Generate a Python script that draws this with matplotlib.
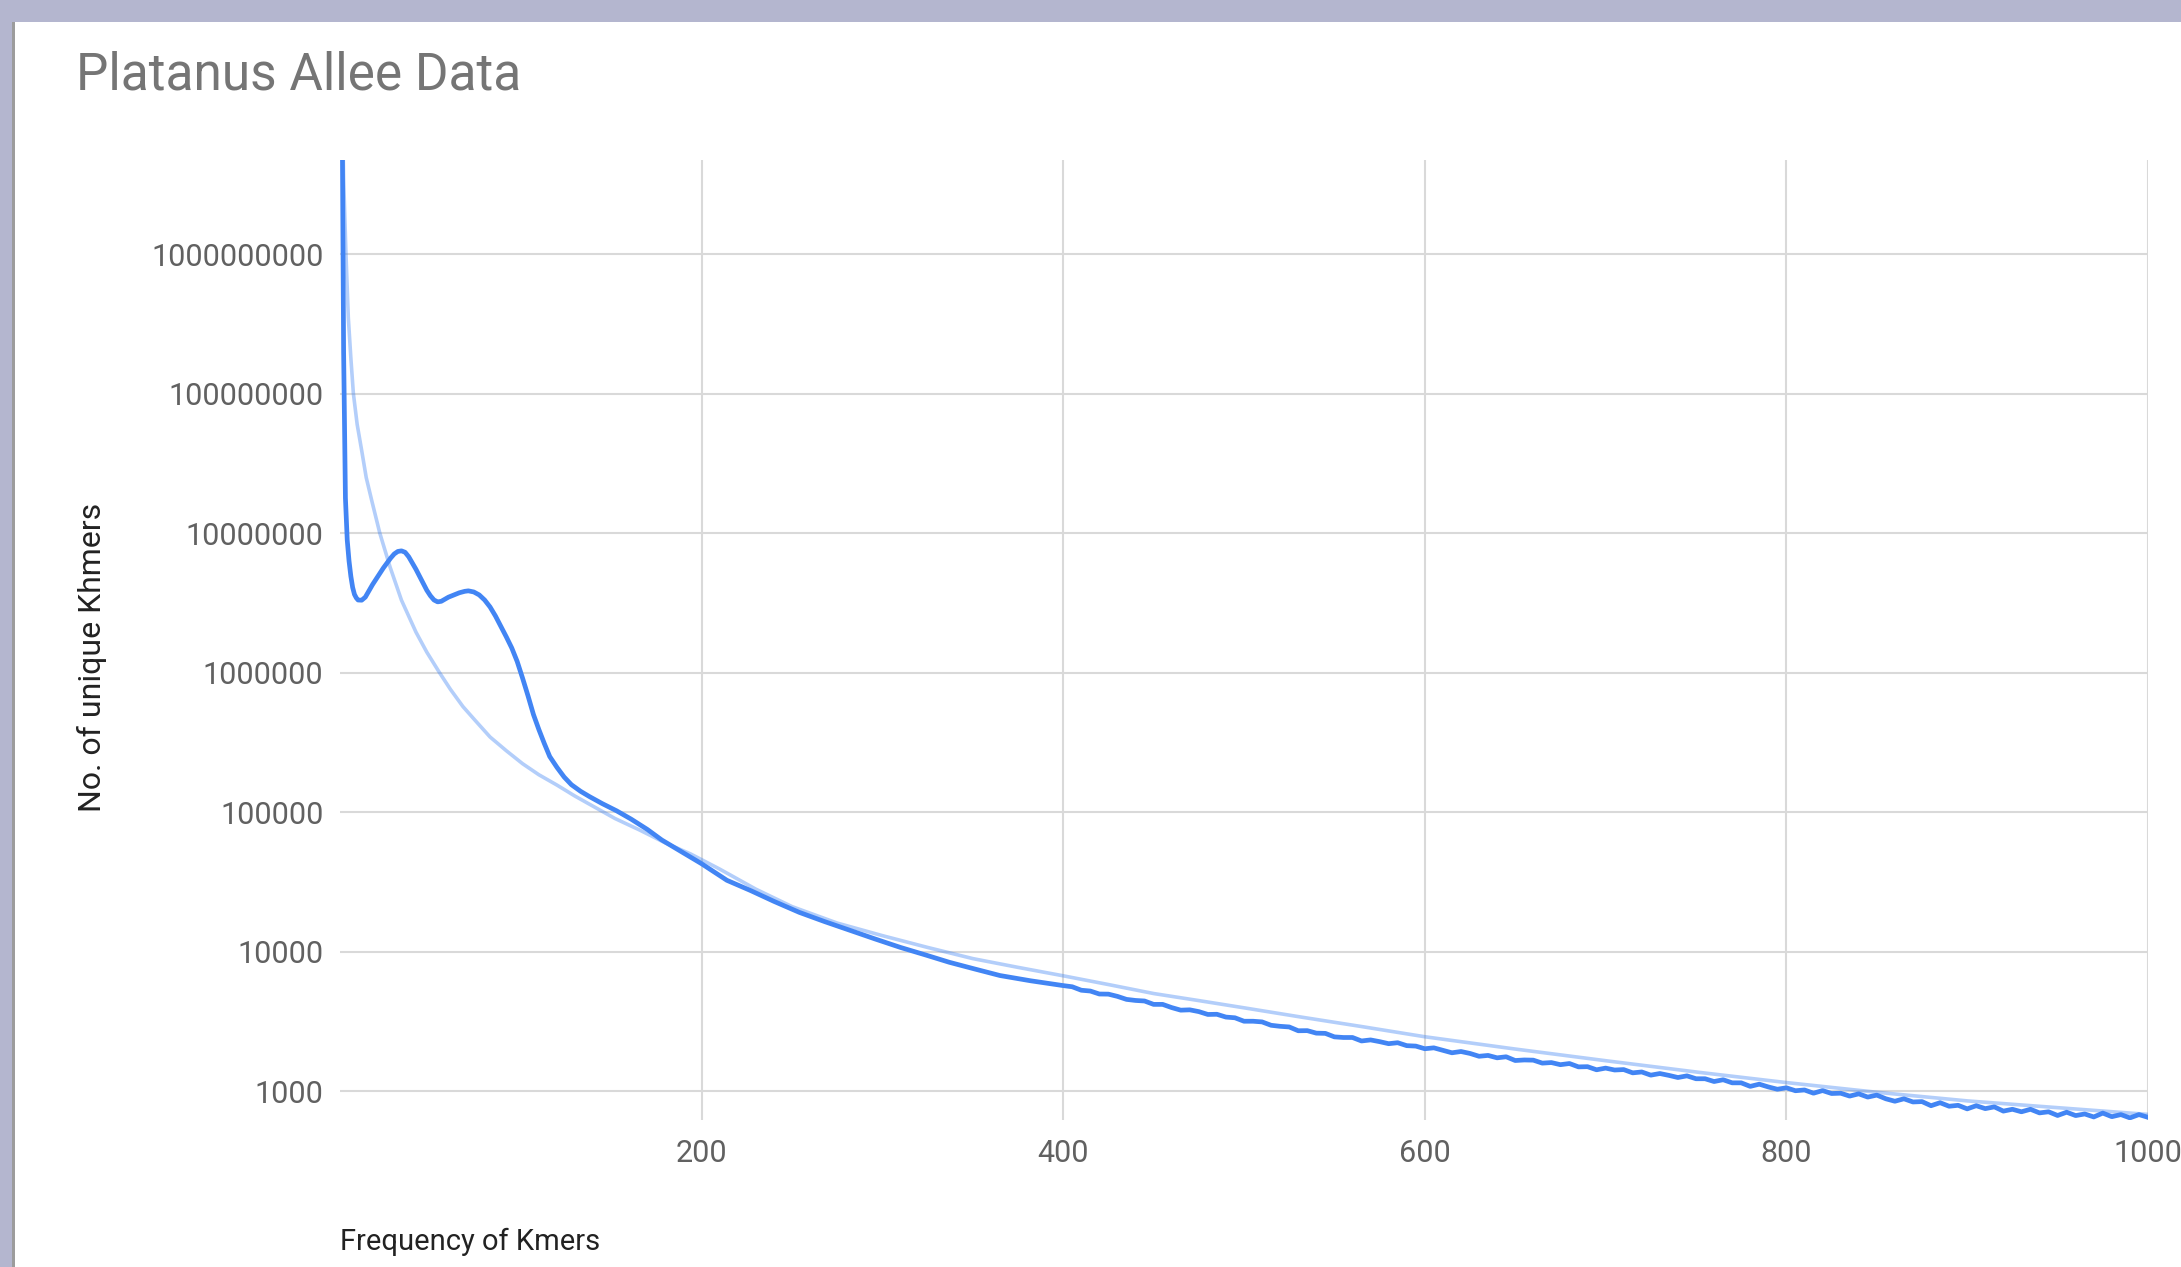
import matplotlib.pyplot as plt
from matplotlib.patches import Rectangle
from matplotlib.ticker import FixedLocator, FixedFormatter

plt.rcParams['font.family'] = ['Roboto', 'DejaVu Sans']

# k-mer frequency (x) vs number of unique k-mers (y)
kmer_freq = [1, 2, 3, 4, 5, 6, 7, 8, 9, 10, 12, 14, 16, 18, 20, 22, 24, 26, 28, 30,
             32, 34, 36, 38, 40, 42, 44, 46, 48, 50, 52, 54, 56, 58, 60, 63, 66, 69, 71, 74,
             77, 80, 83, 86, 89, 92, 95, 98, 101, 104, 107, 110, 113, 116, 120, 124, 128, 133, 138, 145,
             153, 161, 170, 178, 185, 192, 200, 214, 227, 240, 254, 268, 282, 296, 310, 324, 337, 351, 365, 382,
             395, 400, 405, 410, 415, 420, 425, 430, 435, 440, 445, 450, 455, 460, 465, 470, 475, 480, 485, 490,
             495, 500, 505, 510, 515, 520, 525, 530, 535, 540, 545, 550, 555, 560, 565, 570, 575, 580, 585, 590,
             595, 600, 605, 610, 615, 620, 625, 630, 635, 640, 645, 650, 655, 660, 665, 670, 675, 680, 685, 690,
             695, 700, 705, 710, 715, 720, 725, 730, 735, 740, 745, 750, 755, 760, 765, 770, 775, 780, 785, 790,
             795, 800, 805, 810, 815, 820, 825, 830, 835, 840, 845, 850, 855, 860, 865, 870, 875, 880, 885, 890,
             895, 900, 905, 910, 915, 920, 925, 930, 935, 940, 945, 950, 955, 960, 965, 970, 975, 980, 985, 990,
             995, 1000]
kmer_count = [3e10, 2.0e8, 1.78e7, 8.9e6, 6.3e6, 4.9e6, 4.07e6, 3.63e6, 3.43e6, 3.31e6, 3.30e6, 3.47e6, 3.85e6, 4.27e6, 4.68e6, 5.13e6, 5.62e6, 6.10e6, 6.61e6, 7.08e6,
              7.38e6, 7.45e6, 7.28e6, 6.76e6, 6.10e6, 5.50e6, 4.90e6, 4.37e6, 3.89e6, 3.55e6, 3.31e6, 3.21e6, 3.24e6, 3.35e6, 3.47e6, 3.60e6, 3.73e6, 3.82e6, 3.85e6, 3.78e6,
              3.60e6, 3.31e6, 2.95e6, 2.54e6, 2.14e6, 1.80e6, 1.50e6, 1.20e6, 9.1e5, 6.8e5, 5.0e5, 3.9e5, 3.1e5, 2.5e5, 2.09e5, 1.78e5, 1.57e5, 1.41e5, 1.29e5, 1.15e5,
              1.02e5, 8.9e4, 7.5e4, 6.3e4, 5.56e4, 4.90e4, 4.26e4, 3.24e4, 2.74e4, 2.29e4, 1.91e4, 1.64e4, 1.42e4, 1.23e4, 1.07e4, 9440, 8375, 7500, 6730, 6170,
              5820, 5700, 5590, 5280, 5210, 4960, 4950, 4770, 4540, 4460, 4420, 4180, 4180, 3965, 3800, 3820, 3710, 3540, 3550, 3390,
              3350, 3165, 3165, 3130, 2960, 2910, 2880, 2705, 2710, 2600, 2590, 2445, 2420, 2420, 2285, 2325, 2260, 2185, 2220, 2115,
              2100, 2010, 2040, 1960, 1880, 1920, 1860, 1775, 1800, 1730, 1760, 1655, 1670, 1665, 1585, 1600, 1545, 1575, 1490, 1495,
              1420, 1460, 1415, 1425, 1350, 1370, 1300, 1335, 1295, 1250, 1285, 1225, 1225, 1170, 1205, 1145, 1145, 1080, 1120, 1070,
              1030, 1055, 1005, 1018, 965, 1008, 960, 965, 920, 955, 905, 935, 880, 845, 880, 835, 840, 785, 825, 778,
              790, 745, 785, 748, 770, 718, 740, 710, 740, 697, 710, 668, 705, 667, 685, 652, 695, 655, 678, 642,
              678, 648]

# smooth fitted curve (the pale line)
fit_freq = [1, 2, 3.3, 4.6, 6, 7.4, 9.5, 12, 14.5, 17.5, 22, 27.7, 34, 42, 48, 55, 61, 68, 75, 83,
            92, 101, 110, 120, 130, 140, 152, 166, 180, 194, 210, 230, 250, 275, 300, 325, 350, 375, 400, 425,
            450, 475, 500, 531, 565, 600, 650, 700, 752, 800, 850, 900, 950, 1000]
fit_count = [2e10, 3.5e9, 1.0e9, 3.5e8, 1.8e8, 1.0e8, 6.0e7, 3.9e7, 2.5e7, 1.72e7, 1.0e7, 5.7e6, 3.3e6, 1.95e6, 1.4e6, 1.0e6, 7.6e5, 5.7e5, 4.5e5, 3.45e5,
             2.75e5, 2.22e5, 1.85e5, 1.56e5, 1.3e5, 1.1e5, 9.0e4, 7.4e4, 6.0e4, 5.0e4, 3.9e4, 2.8e4, 2.1e4, 1.6e4, 1.3e4, 1.07e4, 8900, 7700, 6700, 5800,
             5000, 4450, 3950, 3400, 2900, 2450, 2000, 1650, 1360, 1150, 980, 850, 760, 680]

y_ticks = [1e3, 1e4, 1e5, 1e6, 1e7, 1e8, 1e9]
y_labels = ['1000', '10000', '100000', '1000000', '10000000', '100000000', '1000000000']
x_ticks = [200, 400, 600, 800, 1000]
x_labels = ['200', '400', '600', '800', '1000']

W, H = 2181, 1267
fig = plt.figure(figsize=(W / 100, H / 100), dpi=100)
fig.patch.set_facecolor('white')

# screenshot frame: lavender band on top and left
fig.patches.append(Rectangle((0, 1 - 22 / H), 1, 22 / H, transform=fig.transFigure,
                             facecolor='#b4b6cf', edgecolor='none', zorder=0))
fig.patches.append(Rectangle((0, 0), 12 / W, 1, transform=fig.transFigure,
                             facecolor='#b4b6cf', edgecolor='none', zorder=0))
fig.patches.append(Rectangle((12 / W, 0), 2.5 / W, 1 - 22 / H, transform=fig.transFigure,
                             facecolor='#9c9c9c', edgecolor='none', zorder=0))

ax = fig.add_axes([340 / W, 1 - 1120 / H, (2148 - 340) / W, (1120 - 160) / H])
ax.set_yscale('log')
ax.set_xlim(0, 1000)
ax.set_ylim(620, 4.72e9)

ax.plot(fit_freq, fit_count, color='#4285f4', alpha=0.4, lw=2.6,
        solid_joinstyle='round', zorder=3)
ax.plot(kmer_freq, kmer_count, color='#4285f4', lw=3.4,
        solid_joinstyle='round', zorder=4)

for s in ax.spines.values():
    s.set_visible(False)

ax.yaxis.set_major_locator(FixedLocator(y_ticks))
ax.yaxis.set_major_formatter(FixedFormatter(y_labels))
ax.yaxis.set_minor_locator(FixedLocator([]))
ax.xaxis.set_major_locator(FixedLocator(x_ticks))
ax.xaxis.set_major_formatter(FixedFormatter(x_labels))

ax.grid(True, color='#d9d9d9', lw=1.5)
ax.set_axisbelow(True)
ax.tick_params(axis='y', length=0, pad=12, labelsize=22, labelcolor='#616161')
ax.tick_params(axis='x', length=0, pad=14, labelsize=22, labelcolor='#616161')

fig.text(76 / W, 1 - 89 / H, 'Platanus Allee Data', fontsize=37, color='#757575',
         ha='left', va='baseline')
fig.text(92 / W, 1 - 657 / H, 'No. of unique Khmers', fontsize=23, color='#222222',
         rotation=90, ha='center', va='center')
fig.text(340 / W, 1 - 1250 / H, 'Frequency of Kmers', fontsize=21, color='#222222',
         ha='left', va='baseline')

fig.savefig('out.png', dpi=100)
